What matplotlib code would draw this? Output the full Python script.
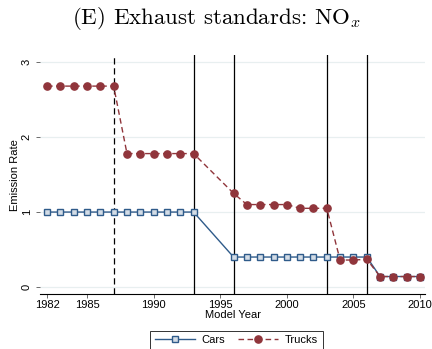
import matplotlib
matplotlib.use("Agg")
import matplotlib.pyplot as plt

# data
car_years = [1982, 1983, 1984, 1985, 1986, 1987, 1988, 1989, 1990, 1991, 1992, 1993,
             1996, 1997, 1998, 1999, 2000, 2001, 2002, 2003, 2004, 2005, 2006,
             2007, 2008, 2009, 2010]
cars = [1.0] * 12 + [0.4] * 11 + [0.14] * 4

truck_years = [1982, 1983, 1984, 1985, 1986, 1987, 1988, 1989, 1990, 1991, 1992, 1993,
               1996, 1997, 1998, 1999, 2000, 2001, 2002, 2003, 2004, 2005, 2006,
               2007, 2008, 2009, 2010]
trucks = [2.68] * 6 + [1.78] * 6 + [1.25, 1.1, 1.1, 1.1, 1.1, 1.05, 1.05, 1.05,
                                    0.36, 0.36, 0.37, 0.14, 0.14, 0.14, 0.14]

dashed_years = [1987]
solid_years = [1993, 1996, 2003, 2006]
xticks = [1982, 1985, 1990, 1995, 2000, 2005, 2010]
yticks = [0, 1, 2, 3]

navy = "#2f5b8a"
maroon = "#90353b"

plt.rcParams["font.family"] = ["Liberation Sans", "DejaVu Sans"]
plt.rcParams["mathtext.fontset"] = "cm"

fig = plt.figure(figsize=(4.32, 3.49), dpi=100)
ax = fig.add_axes([0.0926, 0.1576, 0.8914, 0.6844])

for y in yticks:
    ax.axhline(y, color="#e8eff0", lw=0.9, zorder=0)

for yr in dashed_years:
    ax.axvline(yr, color="black", lw=0.9, ls=(0, (5, 3)), zorder=1)
for yr in solid_years:
    ax.axvline(yr, color="black", lw=0.9, zorder=1)

ax.plot(car_years, cars, color=navy, lw=1.0, marker="s", ms=4.6,
        mfc="#d3dce6", mec=navy, mew=1.0, label="Cars", zorder=3)
ax.plot(truck_years, trucks, color=maroon, lw=1.0, ls=(0, (4, 2.5)), marker="o",
        ms=5.2, mfc=maroon, mec=maroon, label="Trucks", zorder=4)

ax.set_xlim(1981.47, 2010.38)
ax.set_ylim(-0.093, 3.093)
ax.set_xticks(xticks)
ax.set_yticks(yticks)
ax.tick_params(axis="both", labelsize=8, length=3, width=0.6, color="#555555")
ax.tick_params(axis="x", pad=1.5)
ax.tick_params(axis="y", pad=3)
for lab in ax.get_yticklabels():
    lab.set_rotation(90)
    lab.set_va("center")

for side in ["top", "right", "left"]:
    ax.spines[side].set_visible(False)
ax.spines["bottom"].set_linewidth(0.8)

ax.set_xlabel("Model Year", fontsize=8, labelpad=0)
ax.set_ylabel("Emission Rate", fontsize=8, labelpad=1)

# cmr10 ships with matplotlib, gives the LaTeX look of the title
fig.suptitle("(E) Exhaust standards: NO$_x$", fontsize=16.5, y=0.985,
             family="cmr10")

leg = ax.legend(loc="upper center", bbox_to_anchor=(0.51, -0.13), ncol=2,
                fontsize=8, frameon=True, fancybox=False, edgecolor="black",
                handlelength=3.6, columnspacing=1.2, handletextpad=0.6,
                borderpad=0.4)
leg.get_frame().set_linewidth(0.7)

fig.savefig("out.png", dpi=100)
